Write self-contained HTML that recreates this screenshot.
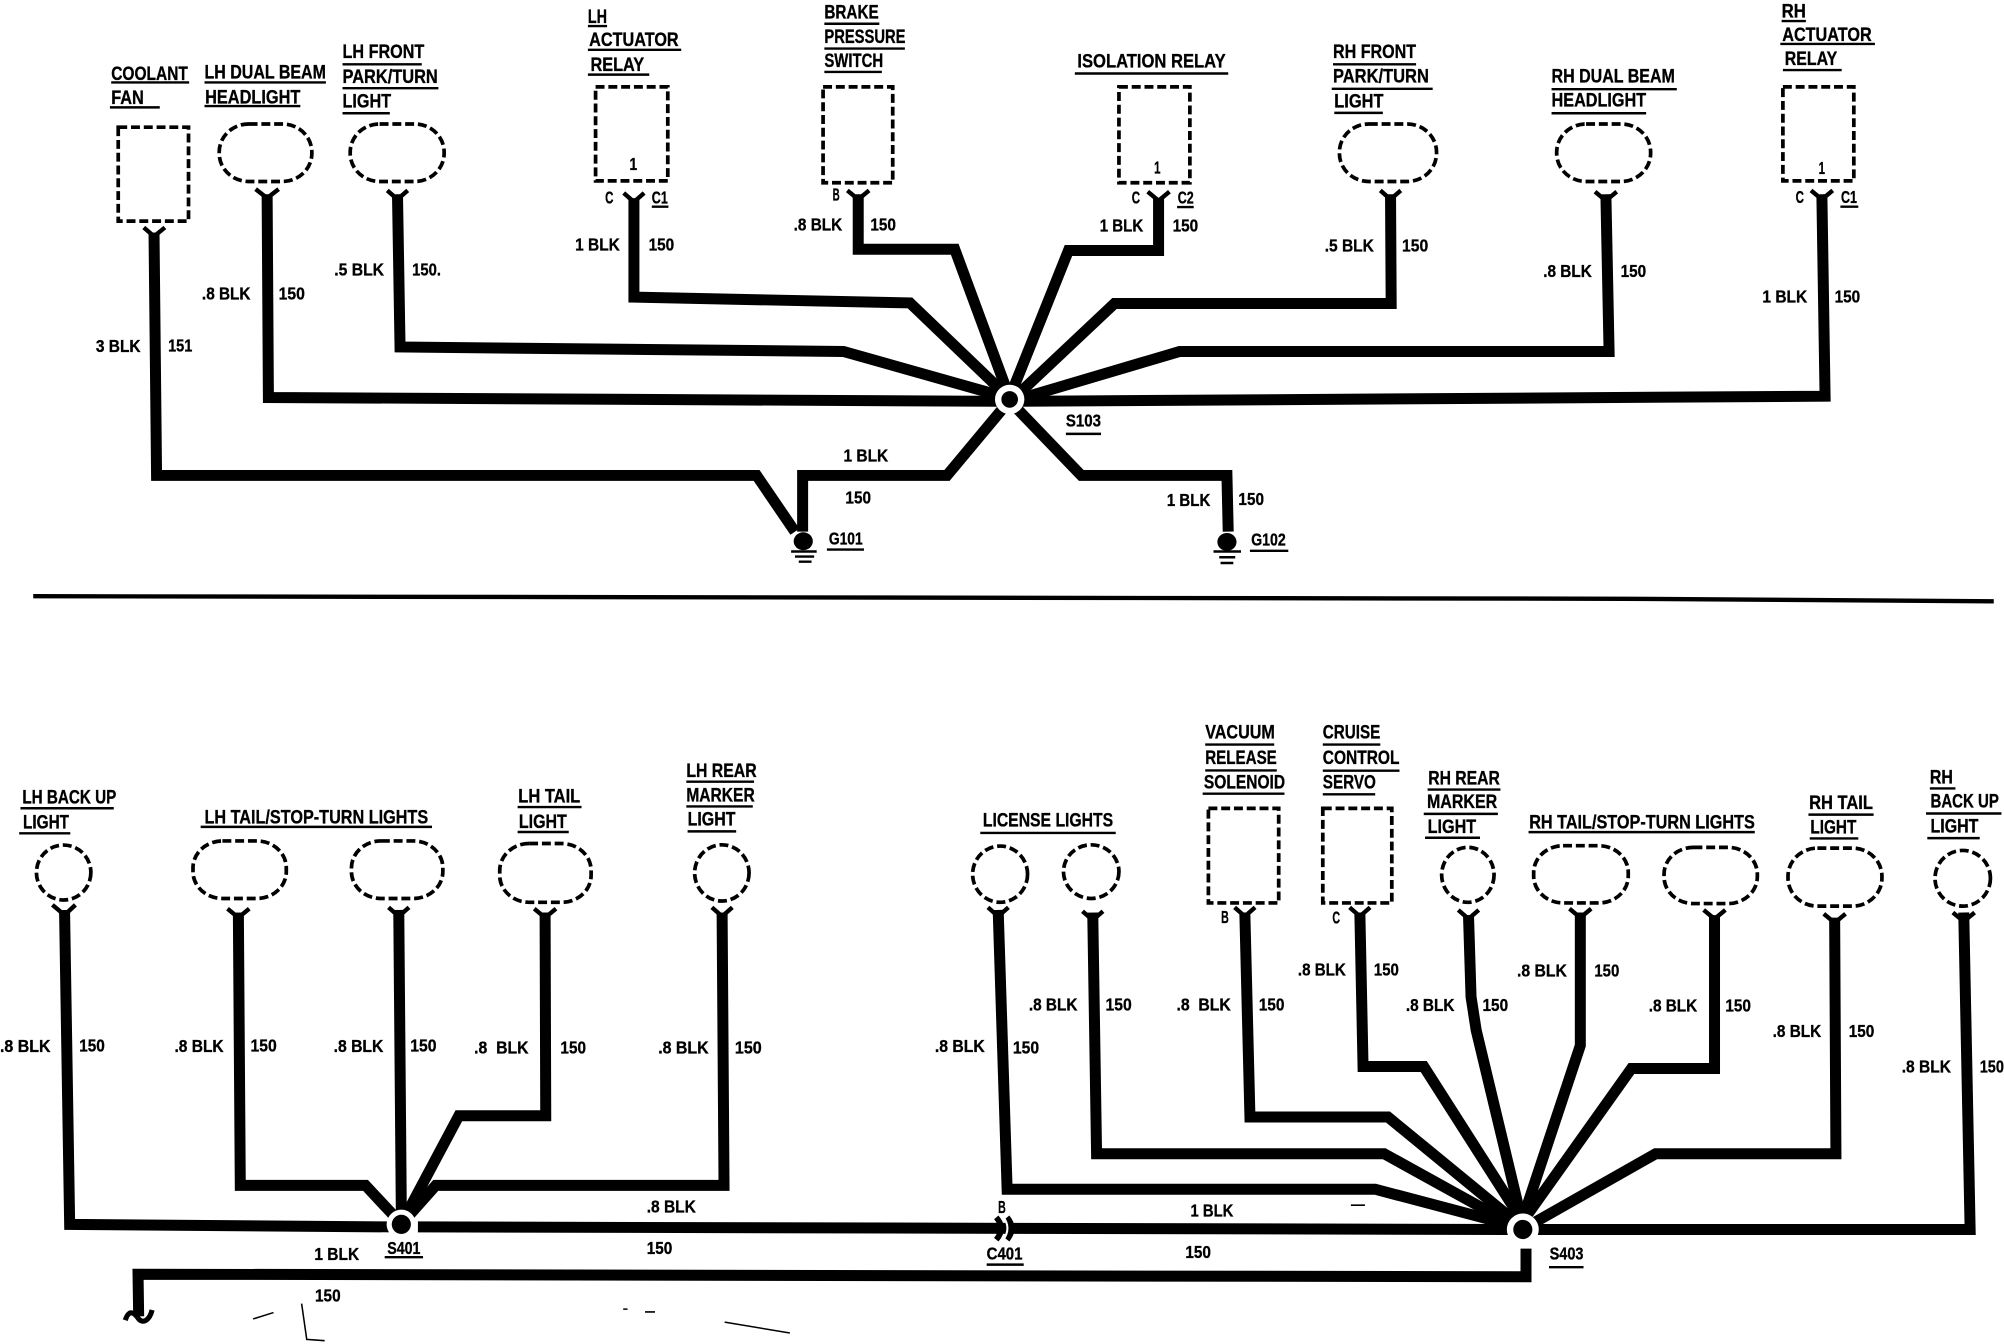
<!DOCTYPE html>
<html><head><meta charset="utf-8"><style>
html,body{margin:0;padding:0;background:#fff}
svg{display:block}
text{font-family:"Liberation Sans Narrow","Liberation Sans",sans-serif;font-weight:bold;fill:#000;stroke:#000;stroke-width:.25}
.h{font-size:15px}.s{font-size:14px}
.w{fill:none;stroke:#000;stroke-width:8.6;stroke-linejoin:miter}
.y{fill:none;stroke:#000;stroke-width:3.4}
.d{fill:none;stroke:#000;stroke-width:2.9;stroke-dasharray:7 3}
.u{fill:none;stroke:#000;stroke-width:1.9}
</style></head><body>
<svg xmlns="http://www.w3.org/2000/svg" width="2004" height="1344" viewBox="0 0 1568 1051.6">
<rect width="1568" height="1051.6" fill="#fff"/>
<!-- separator -->
<path d="M26 466.5L1271 468.5L1560 470.5" fill="none" stroke="#000" stroke-width="3.4"/>
<!-- top wires -->
<g class="w">
<polyline points="120.5,182 122.5,372 592,372 622,416"/>
<polyline points="628,416 628,372 741,372 786,318"/>
<polyline points="209,152 210,311 782,314"/>
<polyline points="311,152 313,271.5 660,275 784,310"/>
<polyline points="496,155 496,232.5 712,237 786,308"/>
<polyline points="671.5,152 671.5,195 747,195 788,306"/>
<polyline points="906.5,155 906.5,196 836,196 792,306"/>
<polyline points="1088,152 1088.5,237.5 872,237.5 795,310"/>
<polyline points="1256.5,152 1259,275 923,275 798,312"/>
<polyline points="1425.5,152 1428,310 796,314"/>
<polyline points="796,320 846,372 960,372 961,416"/>
</g>
<!-- bottom wires -->
<g class="w">
<polyline points="50.5,712 54.5,958 310,960"/>
<polyline points="327,960 1180,962"/>
<polyline points="1200,962 1541.5,962 1536.5,714"/>
<polyline points="1194,977 1194,999 108,997 108.5,1030"/>
<polyline points="186.5,714 188,927.5 286,927.5 307,950"/>
<polyline points="312,712 314,948"/>
<polyline points="426.5,714 427,873 359,873 318,950"/>
<polyline points="565,714 566.5,927.5 341,927.5 321,950"/>
<polyline points="781,712 788,930.5 1076,930.5 1180,958"/>
<polyline points="855,714 858,902.7 1083,902.7 1183,958"/>
<polyline points="974,714 978,874 1086,874 1186,956"/>
<polyline points="1064,714 1066.5,834.5 1114,834.5 1189,952"/>
<polyline points="1149,716 1151,780 1155,806 1190,952"/>
<polyline points="1236.5,714 1236.5,818 1192,952"/>
<polyline points="1341.5,716 1341.5,836 1276.5,836 1194,952"/>
<polyline points="1435.5,718 1436.5,902.7 1295.5,902.7 1198,958"/>
</g>
<path d="M98 1033C101 1024 105 1027 108.500 1032C112 1036 117 1033 119 1025" fill="none" stroke="#000" stroke-width="4"/>
<!-- Y connectors -->
<g class="y">
<path d="M112.500 178L120.500 185L129 178"/>
<path d="M200 148L209 155L218 148"/><path d="M303 149L311 156L319 149"/>
<path d="M488 151L496 158L504 151"/><path d="M663 149L671.500 156L680 149"/>
<path d="M898 150L906.500 157L915 150"/><path d="M1080 149L1088 156L1096 149"/>
<path d="M1248 150L1256.500 157L1265 150"/><path d="M1417 149L1425.500 156L1434 149"/>
<path d="M41 708L50.500 716L59 708"/><path d="M178 711L186.500 718L195 711"/>
<path d="M304 710L312 717L320 710"/><path d="M418 711L426.500 718L435 711"/>
<path d="M557 710L565 717L573 710"/><path d="M773 710L781 717L789 710"/>
<path d="M847 713L855 720L863 713"/><path d="M966 710L974 717L982 710"/>
<path d="M1056 710L1064 717L1072 710"/><path d="M1141 712L1149 719L1157 712"/>
<path d="M1228 711L1236.500 718L1245 711"/><path d="M1333 712L1341.500 719L1350 712"/>
<path d="M1427 715L1435.500 722L1444 715"/><path d="M1528 714L1536.500 721L1545 714"/>
</g>
<!-- boxes -->
<g class="d">
<rect x="92.500" y="99.500" width="55" height="73.500"/>
<rect x="466" y="68" width="56.500" height="73.500"/>
<rect x="644" y="68" width="54.500" height="75"/>
<rect x="875.500" y="68" width="55.500" height="75"/>
<rect x="1395" y="68" width="55.500" height="73.500"/>
<rect x="945.500" y="632.500" width="55" height="74"/>
<rect x="1035" y="632.500" width="54" height="74"/>
<rect x="171.500" y="97" width="72.500" height="45" rx="23" ry="22"/>
<rect x="274" y="97" width="73.500" height="45" rx="23" ry="22"/>
<rect x="1048" y="97" width="76" height="45" rx="23" ry="22"/>
<rect x="1218" y="97" width="73.500" height="45" rx="23" ry="22"/>
<ellipse cx="49.800" cy="682.700" rx="21.300" ry="21.500"/>
<rect x="151" y="658" width="73" height="45" rx="23" ry="21"/>
<rect x="275" y="658" width="71.500" height="45" rx="23" ry="21"/>
<rect x="391" y="660" width="71.500" height="46" rx="23" ry="21"/>
<ellipse cx="564.800" cy="683" rx="21.300" ry="22"/>
<ellipse cx="782.500" cy="684" rx="21.500" ry="22"/>
<ellipse cx="853.800" cy="682" rx="21.700" ry="21"/>
<ellipse cx="1148.500" cy="684.500" rx="20.500" ry="21.500"/>
<rect x="1200" y="661.700" width="74" height="44.800" rx="23" ry="21"/>
<rect x="1302" y="663" width="73" height="44" rx="23" ry="21"/>
<rect x="1399" y="663.600" width="73.500" height="45.400" rx="23" ry="22"/>
<ellipse cx="1535.700" cy="687.200" rx="21.700" ry="21.800"/>
</g>
<!-- hubs -->
<circle cx="790" cy="312.500" r="11.500" fill="#fff"/><circle cx="790" cy="312.500" r="6.500"/>
<circle cx="314" cy="958" r="11.500" fill="#fff"/><circle cx="314" cy="958" r="7.500"/>
<circle cx="1191.500" cy="962" r="12.500" fill="#fff"/><circle cx="1191.500" cy="962" r="7.500"/>
<!-- grounds -->
<ellipse cx="628.500" cy="423.500" rx="7.500" ry="7"/>
<path class="u" d="M619 431.500H639M622 435.500H637M625 439.500H635"/>
<ellipse cx="960" cy="424" rx="7.500" ry="7"/>
<path class="u" d="M949.500 431.500H971M954 436H966.500M955 440.500H965"/>
<!-- C401 -->
<path d="M779.500 952.500Q787 961 779.500 970" fill="none" stroke="#000" stroke-width="4.500"/>
<path d="M788 952.500Q795 961 788 970" fill="none" stroke="#000" stroke-width="4.500"/>
<path d="M785 952Q791.500 961 785 970" fill="none" stroke="#fff" stroke-width="1.600"/>
<!-- underlines -->
<path class="u" d="M87 64.500H148M86 84H125M160 64.500H255M160 83H235M268 50.300H330M268 69H343M268 88.600H305M460 20.400H475M460 39H533M460 58.400H508M645 18.600H688M645 38H708M645 56.300H690M841 57.500H961M1043 50.300H1108M1042 69.500H1121M1044 88.300H1082M1214 69.800H1312M1214 88.600H1288M1394 16.500H1413M1393 34.400H1467M1395 54.800H1441M510 161.700H523M921 162H934M1440 161.700H1454M834 339.500H861.500M647 430H676M978 431H1008M16 632.400H89M15 652H55M157 647H338M405 631.500H455M405 651H445M537 611.600H590M537 631H589M538 650.500H576M301 983.700H331M772 989.500H801M767 651.700H873M943 582.600H997M943 602.800H999M941 621H1005M1035 582.600H1080M1035 603H1095M1035 621.500H1076M1117 617.800H1174M1114 636.800H1172M1115 655.500H1158M1196 651.100H1373M1415 637.400H1466M1416 656H1454M1510 616.900H1530M1507 636.500H1566M1508 655.800H1549M1212 991.500H1239"/>
<!-- scratches -->
<path d="M236 1020L240 1048L254 1049M198 1032L214 1027M487.600 1024.300H491M504.700 1026.500H512.500M567 1034.500L618 1043M1057 943H1068" fill="none" stroke="#000" stroke-width="1.200"/>
<!-- headings -->
<g class="h">
<text x="87" y="62.500" textLength="60" lengthAdjust="spacingAndGlyphs">COOLANT</text>
<text x="87" y="81.500" textLength="25.500" lengthAdjust="spacingAndGlyphs">FAN</text>
<text x="160" y="61.500" textLength="95" lengthAdjust="spacingAndGlyphs">LH DUAL BEAM</text>
<text x="160.500" y="81" textLength="74.500" lengthAdjust="spacingAndGlyphs">HEADLIGHT</text>
<text x="268" y="45.500" textLength="64" lengthAdjust="spacingAndGlyphs">LH FRONT</text>
<text x="268" y="65" textLength="74.500" lengthAdjust="spacingAndGlyphs">PARK/TURN</text>
<text x="268" y="84" textLength="38" lengthAdjust="spacingAndGlyphs">LIGHT</text>
<text x="460" y="18" textLength="15" lengthAdjust="spacingAndGlyphs">LH</text>
<text x="461" y="36" textLength="70" lengthAdjust="spacingAndGlyphs">ACTUATOR</text>
<text x="462" y="55.700" textLength="42" lengthAdjust="spacingAndGlyphs">RELAY</text>
<text x="645" y="14.500" textLength="42.500" lengthAdjust="spacingAndGlyphs">BRAKE</text>
<text x="645" y="33.500" textLength="63.500" lengthAdjust="spacingAndGlyphs">PRESSURE</text>
<text x="645" y="52.500" textLength="46" lengthAdjust="spacingAndGlyphs">SWITCH</text>
<text x="843" y="52.700" textLength="116" lengthAdjust="spacingAndGlyphs">ISOLATION RELAY</text>
<text x="1043" y="45.500" textLength="65" lengthAdjust="spacingAndGlyphs">RH FRONT</text>
<text x="1043" y="64.700" textLength="75" lengthAdjust="spacingAndGlyphs">PARK/TURN</text>
<text x="1044" y="84" textLength="38.500" lengthAdjust="spacingAndGlyphs">LIGHT</text>
<text x="1214" y="64.500" textLength="96.500" lengthAdjust="spacingAndGlyphs">RH DUAL BEAM</text>
<text x="1214" y="83.500" textLength="74" lengthAdjust="spacingAndGlyphs">HEADLIGHT</text>
<text x="1394" y="13.500" textLength="19" lengthAdjust="spacingAndGlyphs">RH</text>
<text x="1394.500" y="32" textLength="70" lengthAdjust="spacingAndGlyphs">ACTUATOR</text>
<text x="1396.500" y="51" textLength="41" lengthAdjust="spacingAndGlyphs">RELAY</text>
<text x="17.500" y="628.700" textLength="73.500" lengthAdjust="spacingAndGlyphs">LH BACK UP</text>
<text x="18" y="648.300" textLength="36" lengthAdjust="spacingAndGlyphs">LIGHT</text>
<text x="160" y="644.300" textLength="175" lengthAdjust="spacingAndGlyphs">LH TAIL/STOP-TURN LIGHTS</text>
<text x="405.500" y="628" textLength="48.500" lengthAdjust="spacingAndGlyphs">LH TAIL</text>
<text x="406" y="648" textLength="37.500" lengthAdjust="spacingAndGlyphs">LIGHT</text>
<text x="537" y="607.800" textLength="55" lengthAdjust="spacingAndGlyphs">LH REAR</text>
<text x="537" y="627" textLength="53.500" lengthAdjust="spacingAndGlyphs">MARKER</text>
<text x="538" y="646" textLength="37.500" lengthAdjust="spacingAndGlyphs">LIGHT</text>
<text x="769" y="646.800" textLength="102" lengthAdjust="spacingAndGlyphs">LICENSE LIGHTS</text>
<text x="943" y="578" textLength="54.500" lengthAdjust="spacingAndGlyphs">VACUUM</text>
<text x="943" y="597.600" textLength="56" lengthAdjust="spacingAndGlyphs">RELEASE</text>
<text x="942" y="617" textLength="63.500" lengthAdjust="spacingAndGlyphs">SOLENOID</text>
<text x="1035" y="578" textLength="45" lengthAdjust="spacingAndGlyphs">CRUISE</text>
<text x="1035" y="597.600" textLength="60" lengthAdjust="spacingAndGlyphs">CONTROL</text>
<text x="1035" y="617" textLength="41.500" lengthAdjust="spacingAndGlyphs">SERVO</text>
<text x="1117.500" y="613.700" textLength="56" lengthAdjust="spacingAndGlyphs">RH REAR</text>
<text x="1116.500" y="632.400" textLength="55" lengthAdjust="spacingAndGlyphs">MARKER</text>
<text x="1117" y="651.700" textLength="38" lengthAdjust="spacingAndGlyphs">LIGHT</text>
<text x="1196.500" y="648.300" textLength="176.500" lengthAdjust="spacingAndGlyphs">RH TAIL/STOP-TURN LIGHTS</text>
<text x="1415.500" y="633" textLength="50" lengthAdjust="spacingAndGlyphs">RH TAIL</text>
<text x="1416.500" y="652" textLength="36" lengthAdjust="spacingAndGlyphs">LIGHT</text>
<text x="1510" y="613" textLength="18" lengthAdjust="spacingAndGlyphs">RH</text>
<text x="1510.500" y="631.800" textLength="53.500" lengthAdjust="spacingAndGlyphs">BACK UP</text>
<text x="1510.500" y="651.400" textLength="37.500" lengthAdjust="spacingAndGlyphs">LIGHT</text>
</g>
<!-- wire labels -->
<g class="s">
<text x="75" y="275.500" textLength="35" lengthAdjust="spacingAndGlyphs">3 BLK</text>
<text x="131.500" y="275" textLength="19" lengthAdjust="spacingAndGlyphs">151</text>
<text x="158" y="234.500" textLength="38" lengthAdjust="spacingAndGlyphs">.8 BLK</text>
<text x="218" y="234.500" textLength="20.500" lengthAdjust="spacingAndGlyphs">150</text>
<text x="261.500" y="215.600" textLength="39" lengthAdjust="spacingAndGlyphs">.5 BLK</text>
<text x="322.500" y="215.600" textLength="22.500" lengthAdjust="spacingAndGlyphs">150.</text>
<text x="450" y="196" textLength="35" lengthAdjust="spacingAndGlyphs">1 BLK</text>
<text x="507.500" y="196" textLength="20" lengthAdjust="spacingAndGlyphs">150</text>
<text x="473.500" y="159.300" textLength="6.500" lengthAdjust="spacingAndGlyphs">C</text>
<text x="510" y="159.300" textLength="12.500" lengthAdjust="spacingAndGlyphs">C1</text>
<text x="492.500" y="133" textLength="6" lengthAdjust="spacingAndGlyphs">1</text>
<text x="651.500" y="157" textLength="5.500" lengthAdjust="spacingAndGlyphs">B</text>
<text x="621" y="180.500" textLength="38" lengthAdjust="spacingAndGlyphs">.8 BLK</text>
<text x="681" y="180.500" textLength="20" lengthAdjust="spacingAndGlyphs">150</text>
<text x="660" y="361" textLength="35" lengthAdjust="spacingAndGlyphs">1 BLK</text>
<text x="661.500" y="394" textLength="20" lengthAdjust="spacingAndGlyphs">150</text>
<text x="648.500" y="426" textLength="26.500" lengthAdjust="spacingAndGlyphs">G101</text>
<text x="885.500" y="159.300" textLength="6.500" lengthAdjust="spacingAndGlyphs">C</text>
<text x="921.500" y="159.300" textLength="12.500" lengthAdjust="spacingAndGlyphs">C2</text>
<text x="903" y="135.600" textLength="5" lengthAdjust="spacingAndGlyphs">1</text>
<text x="860.500" y="181" textLength="34" lengthAdjust="spacingAndGlyphs">1 BLK</text>
<text x="917.500" y="181" textLength="20" lengthAdjust="spacingAndGlyphs">150</text>
<text x="1036.500" y="196.700" textLength="38.500" lengthAdjust="spacingAndGlyphs">.5 BLK</text>
<text x="1097" y="196.700" textLength="20.500" lengthAdjust="spacingAndGlyphs">150</text>
<text x="1207.500" y="216.800" textLength="38" lengthAdjust="spacingAndGlyphs">.8 BLK</text>
<text x="1268" y="216.800" textLength="20" lengthAdjust="spacingAndGlyphs">150</text>
<text x="1379" y="236.800" textLength="35" lengthAdjust="spacingAndGlyphs">1 BLK</text>
<text x="1435.500" y="236.800" textLength="20" lengthAdjust="spacingAndGlyphs">150</text>
<text x="1405" y="158.700" textLength="6.500" lengthAdjust="spacingAndGlyphs">C</text>
<text x="1440.500" y="158.700" textLength="12.500" lengthAdjust="spacingAndGlyphs">C1</text>
<text x="1423" y="136" textLength="5" lengthAdjust="spacingAndGlyphs">1</text>
<text x="834" y="333.800" textLength="27.500" lengthAdjust="spacingAndGlyphs">S103</text>
<text x="913" y="395.800" textLength="34" lengthAdjust="spacingAndGlyphs">1 BLK</text>
<text x="969" y="395" textLength="20" lengthAdjust="spacingAndGlyphs">150</text>
<text x="979" y="426.700" textLength="27" lengthAdjust="spacingAndGlyphs">G102</text>
<text x="0" y="823.300" textLength="39.500" lengthAdjust="spacingAndGlyphs">.8 BLK</text>
<text x="62" y="822.700" textLength="20" lengthAdjust="spacingAndGlyphs">150</text>
<text x="136.500" y="823.300" textLength="38.500" lengthAdjust="spacingAndGlyphs">.8 BLK</text>
<text x="196" y="822.700" textLength="20.500" lengthAdjust="spacingAndGlyphs">150</text>
<text x="261" y="823.300" textLength="39" lengthAdjust="spacingAndGlyphs">.8 BLK</text>
<text x="321" y="822.700" textLength="20.500" lengthAdjust="spacingAndGlyphs">150</text>
<text x="371" y="824.300" textLength="42.500" lengthAdjust="spacingAndGlyphs" xml:space="preserve">.8  BLK</text>
<text x="438.500" y="824.300" textLength="20" lengthAdjust="spacingAndGlyphs">150</text>
<text x="515" y="824.300" textLength="39.500" lengthAdjust="spacingAndGlyphs">.8 BLK</text>
<text x="575" y="824.300" textLength="21" lengthAdjust="spacingAndGlyphs">150</text>
<text x="731.500" y="823.300" textLength="39" lengthAdjust="spacingAndGlyphs">.8 BLK</text>
<text x="792.500" y="824.300" textLength="20.500" lengthAdjust="spacingAndGlyphs">150</text>
<text x="506" y="948.800" textLength="38.500" lengthAdjust="spacingAndGlyphs">.8 BLK</text>
<text x="506" y="981" textLength="20" lengthAdjust="spacingAndGlyphs">150</text>
<text x="246" y="986" textLength="35" lengthAdjust="spacingAndGlyphs">1 BLK</text>
<text x="246.500" y="1018.500" textLength="20" lengthAdjust="spacingAndGlyphs">150</text>
<text x="303" y="981" textLength="26" lengthAdjust="spacingAndGlyphs">S401</text>
<text x="781" y="949" textLength="6" lengthAdjust="spacingAndGlyphs">B</text>
<text x="772" y="985.500" textLength="28" lengthAdjust="spacingAndGlyphs">C401</text>
<text x="955.500" y="722" textLength="6" lengthAdjust="spacingAndGlyphs">B</text>
<text x="1042.500" y="722.700" textLength="6" lengthAdjust="spacingAndGlyphs">C</text>
<text x="805" y="790.600" textLength="38" lengthAdjust="spacingAndGlyphs">.8 BLK</text>
<text x="865" y="790.600" textLength="20.500" lengthAdjust="spacingAndGlyphs">150</text>
<text x="920.500" y="790.600" textLength="42.500" lengthAdjust="spacingAndGlyphs" xml:space="preserve">.8  BLK</text>
<text x="985" y="790.600" textLength="20" lengthAdjust="spacingAndGlyphs">150</text>
<text x="1015.500" y="763.200" textLength="37.500" lengthAdjust="spacingAndGlyphs">.8 BLK</text>
<text x="1075" y="763.200" textLength="19.500" lengthAdjust="spacingAndGlyphs">150</text>
<text x="1100" y="791" textLength="38" lengthAdjust="spacingAndGlyphs">.8 BLK</text>
<text x="1160" y="791" textLength="20" lengthAdjust="spacingAndGlyphs">150</text>
<text x="1187" y="764" textLength="39" lengthAdjust="spacingAndGlyphs">.8 BLK</text>
<text x="1247.500" y="764" textLength="19.500" lengthAdjust="spacingAndGlyphs">150</text>
<text x="1290" y="791.600" textLength="38" lengthAdjust="spacingAndGlyphs">.8 BLK</text>
<text x="1350" y="791.600" textLength="20" lengthAdjust="spacingAndGlyphs">150</text>
<text x="1387" y="811.500" textLength="38" lengthAdjust="spacingAndGlyphs">.8 BLK</text>
<text x="1446.500" y="811.500" textLength="20" lengthAdjust="spacingAndGlyphs">150</text>
<text x="1488" y="839" textLength="38.500" lengthAdjust="spacingAndGlyphs">.8 BLK</text>
<text x="1549" y="839" textLength="19" lengthAdjust="spacingAndGlyphs">150</text>
<text x="931.500" y="952" textLength="33.500" lengthAdjust="spacingAndGlyphs">1 BLK</text>
<text x="927.500" y="984.300" textLength="20" lengthAdjust="spacingAndGlyphs">150</text>
<text x="1212.500" y="985.600" textLength="26.500" lengthAdjust="spacingAndGlyphs">S403</text>
</g>
</svg>
</body></html>
